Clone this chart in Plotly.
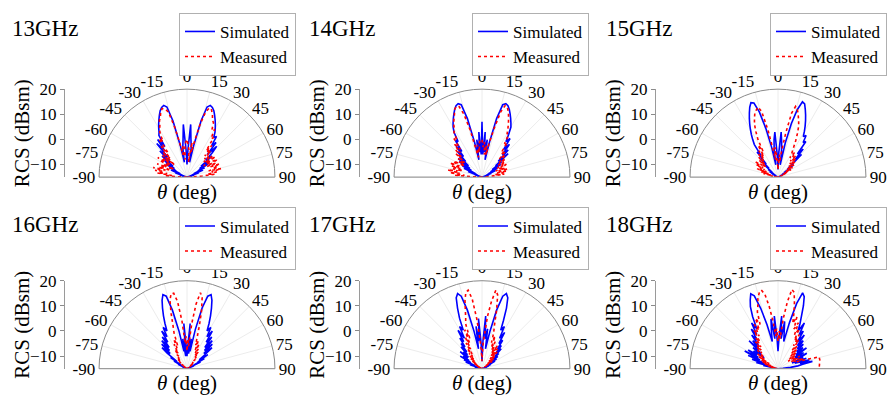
import plotly.graph_objects as go

# ---------------------------------------------------------------- data
FREQ_LABELS = ["13GHz", "14GHz", "15GHz", "16GHz", "17GHz", "18GHz"]
ANGLE_TICKS = [-90, -75, -60, -45, -30, -15, 0, 15, 30, 45, 60, 75, 90]
RCS_TICKS = [-10, 0, 10, 20]
RCS_RANGE = [-15, 20]

# observation angle (deg), 2-degree steps from -90 to 90
THETA = list(range(-90, 91, 2))

SIM_13 = [-15, -15, -15, -15, -14, -15, -13, -15, -12, -14,
          -10, -13, -8, -12, -7, -10, -5, -9, -4, -8,
          -2, -6, 0, -4, 3, -1, 4, 0, 5, 6,
          7.5, 9, 10.5, 12, 13.5, 14.5, 15, 14, 8, -2,
          -9, -3, 0, 6, -4, -10, -4, 6, 0, -3,
          -9, -2, 8, 14, 15, 14.5, 13.5, 12, 10.5, 9,
          7.5, 6, 4, 5, 1, 3, -3, 2, -1, -5,
          -2, -8, -4, -9, -5, -10, -7, -12, -8, -13,
          -10, -14, -12, -15, -13, -15, -14, -15, -15, -15,
          -15]
MEAS_13 = [-15, -12, -6, -9, -3, -7, -2, -5, -1, -6,
           -3, -8, -2, -6, -4, -9, -3, -1, -7, -3,
           -6, -2, -8, -1, -5, 1, -3, 4, 2, 5,
           7, 8, 10, 11, 13, 14, 13.5, 12, 6, -1,
           -6, -2, -8, -3, -1, 0, -2, -4, -9, -1,
           -5, 0, 7, 12, 14, 13.5, 12, 10, 9, 6,
           7, 3, 4, -2, 1, -4, -1, -5, -3, -6,
           -2, -6, -1, -7, -3, -1, -6, -2, -5, -1,
           -4, -2, -6, -1, -5, -3, -7, -4, -9, -13,
           -15]

SIM_14 = [-15, -15, -15, -15, -15, -14, -15, -13, -15, -12,
          -14, -9, -13, -7, -12, -6, -10, -4, -9, -3,
          -8, -3, -6, -1, -4, 1, -2, 3, 2, 6,
          8, 9.5, 11, 12.5, 14, 15.2, 15.7, 15, 9, -1,
          -8, 0, -5, 3, -6, 7, -6, 3, -5, 0,
          -8, -1, 9, 15, 15.7, 15.2, 14, 12.5, 11, 9.5,
          8, 5, 2, 4, -1, 2, -3, 0, -6, -1,
          -8, -5, -10, -6, -11, -8, -12, -9, -13, -11,
          -14, -12, -15, -13, -15, -14, -15, -15, -15, -15,
          -15]
MEAS_14 = [-15, -12, -4, -8, -2, -6, -1, -5, -3, -7,
           -2, -6, -1, -5, -3, -2, -7, -4, -6, -3,
           -6, -1, -4, 0, -2, 2, -1, 4, 3, 6,
           7, 9, 10.5, 12, 14, 15, 14.5, 11, 4, -4,
           -7, -2, -5, -1, 0, 0, -3, -1, -6, -2,
           -6, -1, 5, 12, 15, 14.5, 13, 11, 9, 7,
           5, 5, 1, 2, -2, -3, -1, -5, -2, -4,
           -6, -3, -7, -4, -5, -8, -4, -6, -9, -5,
           -8, -4, -9, -5, -7, -10, -6, -11, -13, -15,
           -15]

SIM_15 = [-15, -15, -15, -15, -15, -15, -15, -15, -15, -15,
          -15, -14, -15, -13, -15, -12, -14, -11, -13, -10,
          -12, -8, -10, -5, -8, -2, -4, 1, 3, 5,
          7, 9, 11, 13, 15, 16.5, 16, 12, 5, -3,
          -10, -4, 0, 3, -6, -12, -5, 3, -1, -5,
          -10, -1, 7, 13, 16.5, 16, 14, 12, 10, 8,
          6, 4, 5, 2, 3, -3, 0, -5, -2, -8,
          -10, -7, -12, -9, -13, -11, -14, -13, -15, -14,
          -15, -15, -15, -15, -15, -15, -15, -15, -15, -15,
          -15]
MEAS_15 = [-15, -15, -15, -14, -15, -12, -13, -9, -12, -8,
           -11, -6, -10, -7, -9, -5, -8, -4, -7, -6,
           -9, -5, -8, -4, -7, -3, -6, -2, -5, 0,
           -3, 2, 5, 8, 10, 12, 13, 14, 12, 4,
           -4, -8, -3, -6, -9, -12, -10, -6, -9, -4,
           3, 11, 14, 13, 11, 9, 7, 4, 1, -2,
           -4, -6, -3, -5, -7, -4, -8, -5, -9, -6,
           -10, -7, -11, -8, -12, -9, -13, -11, -14, -13,
           -15, -15, -15, -15, -15, -15, -15, -15, -15, -15,
           -15]

SIM_16 = [-15, -15, -15, -15, -15, -15, -15, -15, -15, -15,
          -15, -13, -14, -11, -13, -9, -12, -7, -10, -5,
          -2, -6, -1, -5, 0, -4, 1, -2, 3, 0,
          4, 2, 5, 8, 11, 14, 16, 15, 9, 0,
          -8, -3, -10, 3, -6, -10, -6, 3, -9, -3,
          -8, 1, 10, 15, 16, 14, 11, 8, 5, 2,
          4, 0, 3, -2, 1, -4, 0, -5, -1, -6,
          -2, -6, -9, -5, -10, -7, -12, -9, -14, -12,
          -15, -15, -15, -15, -15, -15, -15, -15, -15, -15,
          -15]
MEAS_16 = [-15, -15, -15, -15, -15, -15, -15, -15, -15, -15,
           -15, -15, -15, -15, -15, -14, -15, -13, -14, -12,
           -13, -11, -12, -10, -11, -9, -10, -8, -9, -6,
           -8, -4, -6, -2, -5, 0, 3, 8, 13, 15.5,
           15.5, 12, 4, -5, -2, -8, -3, -6, 3, 11,
           15.7, 14, 9, 3, -2, -5, -3, -7, -4, -8,
           -6, -9, -7, -10, -9, -11, -10, -12, -11, -13,
           -12, -14, -13, -15, -14, -15, -15, -15, -15, -15,
           -15, -15, -15, -15, -15, -15, -15, -15, -15, -15,
           -15]

SIM_17 = [-15, -15, -15, -15, -15, -14, -15, -12, -14, -10,
          -13, -8, -12, -7, -10, -5, -9, -6, -8, -4,
          -8, -5, -7, -3, -6, -2, -4, 0, -2, 3,
          -1, 4, 2, 7, 11, 15, 16.4, 15, 9, 0,
          -7, 2, -4, 5, -5, -12, -4, 6, -3, 1,
          -7, 0, 9, 15, 16.4, 15, 11, 6, 2, 4,
          -1, 2, -3, -1, -5, -3, -7, -4, -8, -6,
          -10, -7, -11, -8, -12, -9, -13, -11, -14, -12,
          -15, -13, -15, -14, -15, -15, -15, -15, -15, -15,
          -15]
MEAS_17 = [-15, -15, -15, -15, -15, -15, -15, -15, -15, -15,
           -15, -14, -15, -13, -15, -12, -14, -11, -13, -10,
           -12, -9, -11, -8, -10, -7, -9, -5, -8, -3,
           -6, -1, -4, 2, -2, 4, 6, 9, 13, 16,
           16.7, 13, 5, -3, -8, -12, -6, -2, 6, 12,
           16.7, 15, 9, 3, 0, -4, -1, -6, -3, -7,
           -5, -8, -4, -9, -5, -10, -6, -11, -8, -12,
           -9, -13, -10, -14, -13, -15, -14, -15, -15, -15,
           -15, -15, -15, -15, -15, -15, -15, -15, -15, -15,
           -15]

SIM_18 = [-15, -15, -14, -15, -12, -14, -9, -13, -6, -10,
          -4, -9, -2, -7, 0, -6, -1, -5, -3, -8,
          -2, -6, 1, -4, 0, -3, 2, -1, 4, 1,
          6, 3, 8, 12, 14.5, 16.7, 15.5, 10, 3, -4,
          0, 5, -3, 6, -2, -8, -2, 6, -3, 4,
          -1, -4, 4, 12, 16.7, 15.5, 12, 8, 5, 2,
          6, 1, 3, -2, 2, -3, 0, -4, -1, -5,
          -2, -6, -1, -7, -3, -8, -2, -6, -4, -9,
          -3, -8, -2, -6, -1, -5, -7, -10, -13, -15,
          -15]
MEAS_18 = [-15, -15, -15, -14, -15, -13, -12, -14, -11, -13,
           -9, -12, -8, -10, -7, -11, -6, -9, -5, -8,
           -7, -4, -6, -3, -5, -1, -4, 0, -2, 3,
           0, 5, 2, 7, 4, 9, 11, 14, 16, 17,
           15, 10, 4, -2, 1, -4, 0, -3, 5, 12,
           17, 16, 12, 8, 4, 7, 2, 5, 0, 3,
           -2, 1, -4, -1, -6, -3, -7, -4, -8, -5,
           -9, -6, -10, -7, -8, -5, -9, -6, -8, -4,
           -7, -3, 2, 2, 2, 1.8, 1.7, 1.6, 1.5, 1.4,
           1.3]

SIMULATED = [SIM_13, SIM_14, SIM_15, SIM_16, SIM_17, SIM_18]
MEASURED = [MEAS_13, MEAS_14, MEAS_15, MEAS_16, MEAS_17, MEAS_18]

# ---------------------------------------------------------------- layout
W, H = 891, 398
SERIF = "Liberation Serif"
COL_CX = [187, 482, 778]       # centre of each half-polar (px)
ROW_BASE = [172, 368]          # baseline (centre) of each half-polar (px)
RADIUS = 90
TITLE_X = [10, 307, 604]
TITLE_Y = [20, 220]
LEGEND_RIGHT = [296, 589, 887]
LEGEND_TOP = [4, 203]

fig = go.Figure()
layout = {}
annotations = []

for i, label in enumerate(FREQ_LABELS):
    row, col = divmod(i, 3)
    k = "" if i == 0 else str(i + 1)
    cx, base = COL_CX[col], ROW_BASE[row]
    ydom = [1 - base / H, 1 - (base - RADIUS) / H]
    legend_id = "legend" + k

    fig.add_trace(go.Scatterpolar(
        r=SIMULATED[i], theta=THETA, mode="lines", name="Simulated",
        subplot="polar" + k, legend=legend_id,
        line=dict(color="#0000ff", width=1.6),
    ))
    fig.add_trace(go.Scatterpolar(
        r=MEASURED[i], theta=THETA, mode="lines", name="Measured",
        subplot="polar" + k, legend=legend_id,
        line=dict(color="#ff0000", width=1.6, dash="dot"),
    ))
    # carrier for the RCS scale drawn beside each half-polar
    fig.add_trace(go.Scatter(x=[], y=[], xaxis="x" + k, yaxis="y" + k,
                             showlegend=False, hoverinfo="skip"))

    layout["polar" + k] = dict(
        domain=dict(x=[(cx - RADIUS) / W, (cx + RADIUS) / W], y=ydom),
        sector=[0, 180],
        bgcolor="white",
        radialaxis=dict(range=RCS_RANGE, visible=False),
        angularaxis=dict(
            rotation=90, direction="clockwise",
            tickmode="array", tickvals=ANGLE_TICKS,
            ticktext=[str(a) for a in ANGLE_TICKS],
            ticks="", showline=True, linecolor="#8a8a8a", linewidth=1,
            showgrid=True, gridcolor="#ececec", gridwidth=1,
            tickfont=dict(family=SERIF, size=17, color="black"),
        ),
    )
    axis_x = cx - 122
    layout["xaxis" + k] = dict(domain=[axis_x / W, (axis_x + 1) / W],
                               visible=False, anchor="y" + k, range=[0, 1],
                               fixedrange=True)
    layout["yaxis" + k] = dict(
        domain=ydom, anchor="x" + k, range=RCS_RANGE, tickvals=RCS_TICKS,
        ticks="outside", ticklen=4, tickcolor="#8a8a8a",
        showline=True, linecolor="#9a9a9a", showgrid=False, zeroline=False,
        fixedrange=True,
        tickfont=dict(family=SERIF, size=17, color="black"),
    )
    layout[legend_id] = dict(
        x=LEGEND_RIGHT[col] / W, xanchor="right",
        y=1 - LEGEND_TOP[row] / H, yanchor="top",
        bordercolor="#b0b0b0", borderwidth=1, bgcolor="white",
        font=dict(family=SERIF, size=17, color="black"),
        tracegroupgap=0,
    )

    annotations.append(dict(
        text=label, x=TITLE_X[col] / W, y=1 - TITLE_Y[row] / H,
        xref="paper", yref="paper", xanchor="left", yanchor="middle",
        showarrow=False, font=dict(family=SERIF, size=23, color="black"),
    ))
    annotations.append(dict(
        text="RCS (dBsm)", x=(cx - 165) / W, y=1 - (base - 45) / H,
        xref="paper", yref="paper", xanchor="center", yanchor="middle",
        textangle=-90, showarrow=False,
        font=dict(family=SERIF, size=21, color="black"),
    ))
    annotations.append(dict(
        text="<i>θ</i> (deg)", x=cx / W, y=1 - (base + 15) / H,
        xref="paper", yref="paper", xanchor="center", yanchor="middle",
        showarrow=False, font=dict(family=SERIF, size=21, color="black"),
    ))

fig.update_layout(
    width=W, height=H,
    margin=dict(l=0, r=0, t=0, b=0),
    paper_bgcolor="white", plot_bgcolor="white",
    font=dict(family=SERIF, color="black"),
    annotations=annotations,
    **layout,
)

fig.write_html("out.html", config={"displayModeBar": False})
